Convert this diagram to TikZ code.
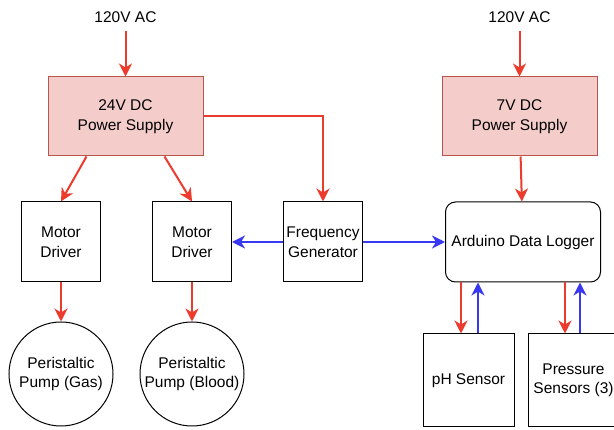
\documentclass[tikz,border=0pt]{standalone}
\usepackage{fontspec}
\setmainfont{Liberation Sans}
\definecolor{PinkFill}{HTML}{F4CDCB}
\definecolor{PinkLine}{HTML}{B85450}
\definecolor{WireRed}{HTML}{EC3A2C}
\definecolor{WireBlue}{HTML}{3838F2}
\usepackage{tikz}
\usetikzlibrary{arrows.meta,positioning,calc}

\begin{document}
\begin{tikzpicture}[x=1pt, y=-1pt, node distance=51pt, every node/.style={font=\fontsize{15.5}{19.5}\selectfont}]
\tikzset{supply/.style={draw=PinkLine, fill=PinkFill, line width=1pt, minimum width=155pt, minimum height=79pt, inner sep=1pt, align=center}}
\tikzset{box/.style={draw, line width=1pt, minimum width=79pt, minimum height=80pt, inner sep=1pt, align=center}}
\tikzset{pump/.style={draw, circle, line width=1pt, minimum size=104pt, inner sep=0pt, align=center}}
\tikzset{power/.style={-{Stealth[length=13pt, width=13pt, inset=4pt]}, WireRed, line width=2pt}}
\tikzset{signal/.style={-{Stealth[length=13pt, width=13pt, inset=4pt]}, WireBlue, line width=2pt}}
\useasboundingbox (0,0) rectangle (614,430);
\node[inner xsep=2pt, inner ysep=8pt] (mains1) at (125.5,17) {120V AC};
\node[inner xsep=2pt, inner ysep=8pt] (mains2) at (519.5,17) {120V AC};
\node[supply] (psu24) at (125.5,116.5) {24V DC\\Power Supply};
\node[supply] (psu7) at (519.5,116.5) {7V DC\\Power Supply};
\node[box] (drv1) at (61,242) {Motor\\Driver};
\node[box, right=of drv1] (drv2) {Motor\\Driver};
\node[box, right=of drv2] (freq) {Frequency\\Generator};
\node[box, rounded corners=10pt, minimum width=155pt, right=82pt of freq] (logger) {Arduino Data Logger};
\node[pump, below=39pt of drv1] (gas) {Peristaltic\\Pump (Gas)};
\node[pump, below=39pt of drv2] (blood) {Peristaltic\\Pump (Blood)};
\node[box, minimum width=91pt, minimum height=93pt] (ph) at (468.5,380.5) {pH Sensor};
\node[box, minimum width=91pt, minimum height=93pt, right=13pt of ph] (press) {Pressure\\Sensors (3)};
% power lines
\draw[power] (mains1) -- (psu24);
\draw[power] (mains2) -- (psu7);
\draw[power] ($(psu24.south west)!0.25!(psu24.south east)$) -- (drv1.north);
\draw[power] ($(psu24.south west)!0.75!(psu24.south east)$) -- (drv2.north);
\draw[power] (psu24.east) -| (freq.north);
\draw[power] (psu7) -- (logger);
\draw[power] (drv1) -- (gas);
\draw[power] (drv2) -- (blood);
\draw[power] ([xshift=-7.5pt]ph.north |- logger.south) -- ([xshift=-7.5pt]ph.north);
\draw[power] ([xshift=-8.5pt]press.north |- logger.south) -- ([xshift=-8.5pt]press.north);
% signal lines
\draw[signal] (freq) -- (drv2);
\draw[signal] (freq) -- (logger);
\draw[signal] ([xshift=9.5pt]ph.north) -- ([xshift=9.5pt]ph.north |- logger.south);
\draw[signal] ([xshift=6.5pt]press.north) -- ([xshift=6.5pt]press.north |- logger.south);
\end{tikzpicture}
\end{document}
